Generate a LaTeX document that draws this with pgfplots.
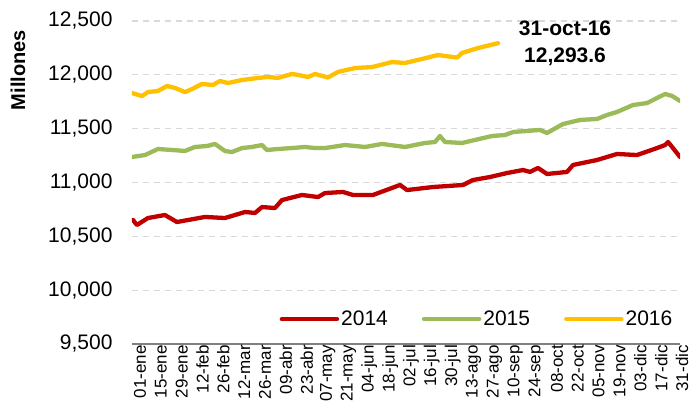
\documentclass[border=0pt]{standalone}
\usepackage{pgfplots}
\pgfplotsset{compat=1.18}
\usepackage{fontspec}
\setmainfont{Liberation Sans}
\definecolor{c14}{HTML}{C00000}
\definecolor{c15}{HTML}{9BBB59}
\definecolor{c16}{HTML}{FFC000}
\begin{document}
\begin{tikzpicture}
\begin{axis}[
  scale only axis, width=548pt, height=323pt,
  xmin=-2, xmax=366, ymin=9500, ymax=12500,
  axis x line*=bottom, axis y line*=left,
  y axis line style={draw=none},
  x axis line style={draw=black!50, line width=1.3pt},
  major tick length=0pt,
  ytick={9500,10000,...,12500},
  ymajorgrids, grid style={draw=black!15, line width=1.2pt, dash pattern=on 6pt off 5pt},
  yticklabel style={font=\fontsize{21}{24}\selectfont, xshift=-16pt},
  /pgf/number format/assume math mode=true,
  /pgf/number format/1000 sep={,},
  scaled y ticks=false,
  xtick={0,14,...,364},
  xticklabels={01-ene,15-ene,29-ene,12-feb,26-feb,12-mar,26-mar,09-abr,23-abr,07-may,21-may,04-jun,18-jun,02-jul,16-jul,30-jul,13-ago,27-ago,10-sep,24-sep,08-oct,22-oct,05-nov,19-nov,03-dic,17-dic,31-dic},
  xticklabel style={font=\fontsize{17}{18}\selectfont, rotate=90, anchor=east, inner sep=1pt, yshift=-5pt},
  ylabel={Millones},
  every axis y label/.style={at={(rel axis cs:0,0.848)}, xshift=-114pt, rotate=90, anchor=center, font=\fontsize{20}{22}\selectfont\bfseries},
  legend columns=3,
  legend style={draw=none, fill=none, font=\fontsize{21}{24}\selectfont, at={(rel axis cs:0.99,0.077)}, anchor=east, inner sep=0pt, /tikz/every even column/.append style={column sep=32pt}},
  legend image code/.code={\draw[#1, line width=4.5pt] (0pt,0pt) -- (55pt,0pt);},
  every axis plot/.append style={line width=4.3pt, line join=round, line cap=round},
]
\addplot[c14] coordinates {
(-1.3,10652)(1.3,10605)(8.7,10670)(20.1,10698)(28.2,10633)(47.0,10680)(60.4,10670)(73.9,10726)(80.6,10717)(85.3,10772)(94.0,10763)(98.7,10837)(112.2,10884)(122.9,10865)(127.6,10902)(139.7,10912)(146.4,10884)(159.8,10884)(178.0,10977)(182.7,10930)(200.1,10958)(220.3,10977)(227.0,11023)(238.4,11051)(249.8,11088)(260.6,11116)(265.3,11098)(270.6,11135)(276.7,11079)(290.1,11098)(294.2,11163)(310.3,11209)(323.7,11265)(337.1,11255)(350.6,11320)(356.0,11348)(358.0,11376)(360.7,11330)(366.0,11237)
};
\addlegendentry{2014}
\addplot[c15] coordinates {
(-2.0,11237)(6.7,11255)(15.4,11311)(24.8,11302)(33.6,11293)(40.3,11330)(48.4,11339)(53.7,11358)(60.4,11293)(65.1,11283)(71.9,11320)(78.6,11330)(85.3,11348)(88.6,11302)(96.0,11311)(105.4,11320)(114.2,11330)(120.9,11320)(127.6,11320)(141.0,11348)(154.5,11330)(165.9,11358)(181.3,11330)(194.8,11367)(201.5,11376)(204.8,11432)(208.2,11376)(219.6,11367)(228.3,11395)(239.8,11432)(248.5,11441)(253.9,11469)(272.0,11488)(276.7,11460)(287.4,11543)(298.9,11581)(310.3,11590)(317.0,11627)(323.7,11655)(334.5,11720)(343.9,11738)(350.6,11785)(356.0,11822)(360.7,11804)(366.0,11757)
};
\addlegendentry{2015}
\addplot[c16] coordinates {
(-2.0,11831)(4.7,11803)(8.7,11840)(15.4,11850)(21.5,11896)(26.9,11878)(33.6,11840)(38.3,11868)(45.0,11915)(52.4,11906)(57.1,11943)(62.5,11924)(71.9,11952)(82.6,11971)(89.3,11980)(96.0,11971)(105.4,12008)(109.5,11999)(116.2,11980)(120.9,12008)(129.6,11975)(136.3,12027)(147.7,12063)(159.2,12072)(172.6,12119)(181.3,12110)(192.7,12147)(203.5,12184)(216.3,12160)(219.6,12203)(230.4,12249)(243.8,12294)
};
\addlegendentry{2016}
\node[align=center, font=\fontsize{21}{27}\selectfont\bfseries] at (axis cs:288.8,12290) {31-oct-16\\12,293.6};
\coordinate (tl) at (rel axis cs:0,1);
\coordinate (br) at (rel axis cs:1,0);
\end{axis}
\pgfresetboundingbox
\path ([shift={(-132pt,21pt)}]tl) rectangle ([shift={(11pt,-68pt)}]br);
\end{tikzpicture}
\end{document}
